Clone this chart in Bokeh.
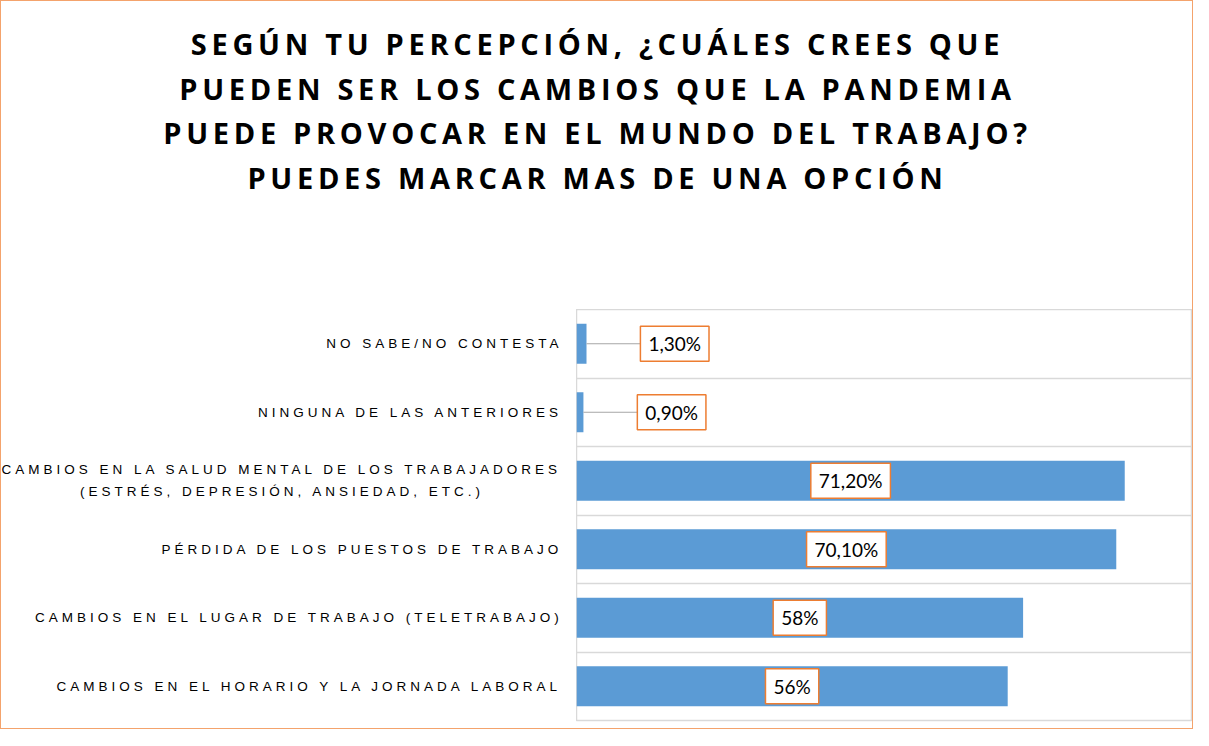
from bokeh.plotting import figure
from bokeh.layouts import column, row
from bokeh.models import Div, FactorRange, Range1d, FixedTicker, ColumnDataSource
from bokeh.core.properties import value
from bokeh.embed import file_html
from bokeh.resources import INLINE

title_lines = [
    "SEGÚN TU PERCEPCIÓN, ¿CUÁLES CREES QUE",
    "PUEDEN SER LOS CAMBIOS QUE LA PANDEMIA",
    "PUEDE PROVOCAR EN EL MUNDO DEL TRABAJO?",
    "PUEDES MARCAR MAS DE UNA OPCIÓN",
]
categories = [
    "NO SABE/NO CONTESTA",
    "NINGUNA DE LAS ANTERIORES",
    "CAMBIOS EN LA SALUD MENTAL DE LOS TRABAJADORES\n(ESTRÉS, DEPRESIÓN, ANSIEDAD, ETC.)",
    "PÉRDIDA DE LOS PUESTOS DE TRABAJO",
    "CAMBIOS EN EL LUGAR DE TRABAJO (TELETRABAJO)",
    "CAMBIOS EN EL HORARIO Y LA JORNADA LABORAL",
]
values = [1.3, 0.9, 71.2, 70.1, 58, 56]
value_labels = ["1,30%", "0,90%", "71,20%", "70,10%", "58%", "56%"]

BAR = "#5B9BD5"
ORANGE = "#ED7D31"
GRID = "#D9D9D9"

# --- layout constants (pixels) ---
TITLE_H = 298
FIG_H = 419
BOTTOM = 8
LAB_W = 575
BAR_W = 616
LAB_RIGHT = 558          # right end of the category labels
LAB_FS = 13.5            # label font size
LAB_LS = 4.0             # letter spacing of labels
LINE_GAP = 22            # pitch of wrapped label lines

# advance widths of Liberation Sans (Arial metrics), 1/1000 em
ADV = {' ': 278, '(': 333, ')': 333, ',': 278, '.': 278, '/': 278,
       'A': 667, 'B': 667, 'C': 722, 'D': 722, 'E': 667, 'F': 611, 'G': 778,
       'H': 722, 'I': 278, 'J': 500, 'K': 667, 'L': 556, 'M': 833, 'N': 722,
       'O': 778, 'P': 667, 'Q': 778, 'R': 722, 'S': 667, 'T': 611, 'U': 722,
       'V': 667, 'W': 944, 'X': 667, 'Y': 667, 'Z': 611, 'É': 667, 'Ó': 778,
       'Á': 667, 'Í': 278, 'Ú': 722, 'Ñ': 722}


def spaced_width(s):
    return sum(ADV.get(c, 667) for c in s) * LAB_FS / 1000.0 + (len(s) - 1) * LAB_LS


yr = FactorRange(factors=list(reversed(categories)))

title = Div(
    text='<div style="width:1183px;text-align:center;font-family:\'Open Sans\';font-weight:bold;'
         'font-size:29px;letter-spacing:4.7px;line-height:44.5px;color:#000;padding-top:16px">'
         + "<br>".join(title_lines) + "</div>",
    width=LAB_W + BAR_W, height=TITLE_H,
)

# --- category labels (own figure so that letter spacing applies only to them) ---
ly, lx, lt, loff = [], [], [], []
for cat in categories:
    lines = cat.split("\n")
    widths = [spaced_width(s) for s in lines]
    W = max(widths)
    k = len(lines)
    for j, (s, w) in enumerate(zip(lines, widths)):
        ly.append(cat)
        lx.append(LAB_RIGHT - W + (W - w) / 2.0)
        lt.append(s)
        loff.append((j - (k - 1) / 2.0) * LINE_GAP)

lab = figure(width=LAB_W, height=FIG_H, x_range=Range1d(0, LAB_W), y_range=yr,
             x_axis_location=None, y_axis_location=None, toolbar_location=None,
             output_backend="svg", min_border_left=0, min_border_right=0,
             min_border_top=0, min_border_bottom=BOTTOM,
             styles={"letter-spacing": "%.1fpx" % LAB_LS})
lab.outline_line_color = None
lab.grid.visible = False
lab_src = ColumnDataSource(dict(y=ly, x=lx, t=lt, off=loff))
lab.text(x="x", y="y", text="t", y_offset="off", source=lab_src, text_align="left",
         text_baseline="middle", text_font=value("Liberation Sans"),
         text_font_size="%.1fpx" % LAB_FS, text_color="#000000")

# --- bars ---
p = figure(width=BAR_W, height=FIG_H, x_range=Range1d(0, 80), y_range=yr,
           x_axis_location=None, y_axis_location=None, toolbar_location=None,
           output_backend="svg", min_border_left=0, min_border_right=0,
           min_border_top=0, min_border_bottom=BOTTOM)
p.outline_line_color = GRID
p.outline_line_width = 1.5
p.xgrid.visible = False
p.ygrid.ticker = FixedTicker(ticks=[1, 2, 3, 4, 5])
p.ygrid.grid_line_color = GRID
p.ygrid.grid_line_width = 1.5

p.hbar(y=categories, right=values, left=0, height=0.585, fill_color=BAR, line_color=None)

inside = [i for i, v in enumerate(values) if v >= 10]
outside = [i for i, v in enumerate(values) if v < 10]
in_src = ColumnDataSource(dict(y=[categories[i] for i in inside],
                               x=[values[i] / 2 for i in inside],
                               t=[value_labels[i] for i in inside]))
out_src = ColumnDataSource(dict(y=[categories[i] for i in outside],
                                v=[values[i] for i in outside],
                                x=[values[i] + 7.0 for i in outside],
                                t=[value_labels[i] for i in outside]))
p.segment(x0="v", y0="y", x1="x", y1="y", source=out_src, line_color="#A6A6A6", line_width=1)
common = dict(text_baseline="middle", text_font=value("Lato"), text_font_size="19px",
              text_color="#000000", background_fill_color="white",
              border_line_color=ORANGE, border_line_width=1.5,
              padding={"left": 8, "right": 8, "top": 6, "bottom": 6})
p.text(x="x", y="y", text="t", source=in_src, text_align="center", **common)
p.text(x="x", y="y", text="t", source=out_src, text_align="left", **common)

root = column(title, row(lab, p), width=LAB_W + BAR_W + 2, height=TITLE_H + FIG_H + 12,
              styles={"border": "1px solid #F4A36C", "background": "white"})

open("out.html", "w").write(file_html(root, INLINE))
